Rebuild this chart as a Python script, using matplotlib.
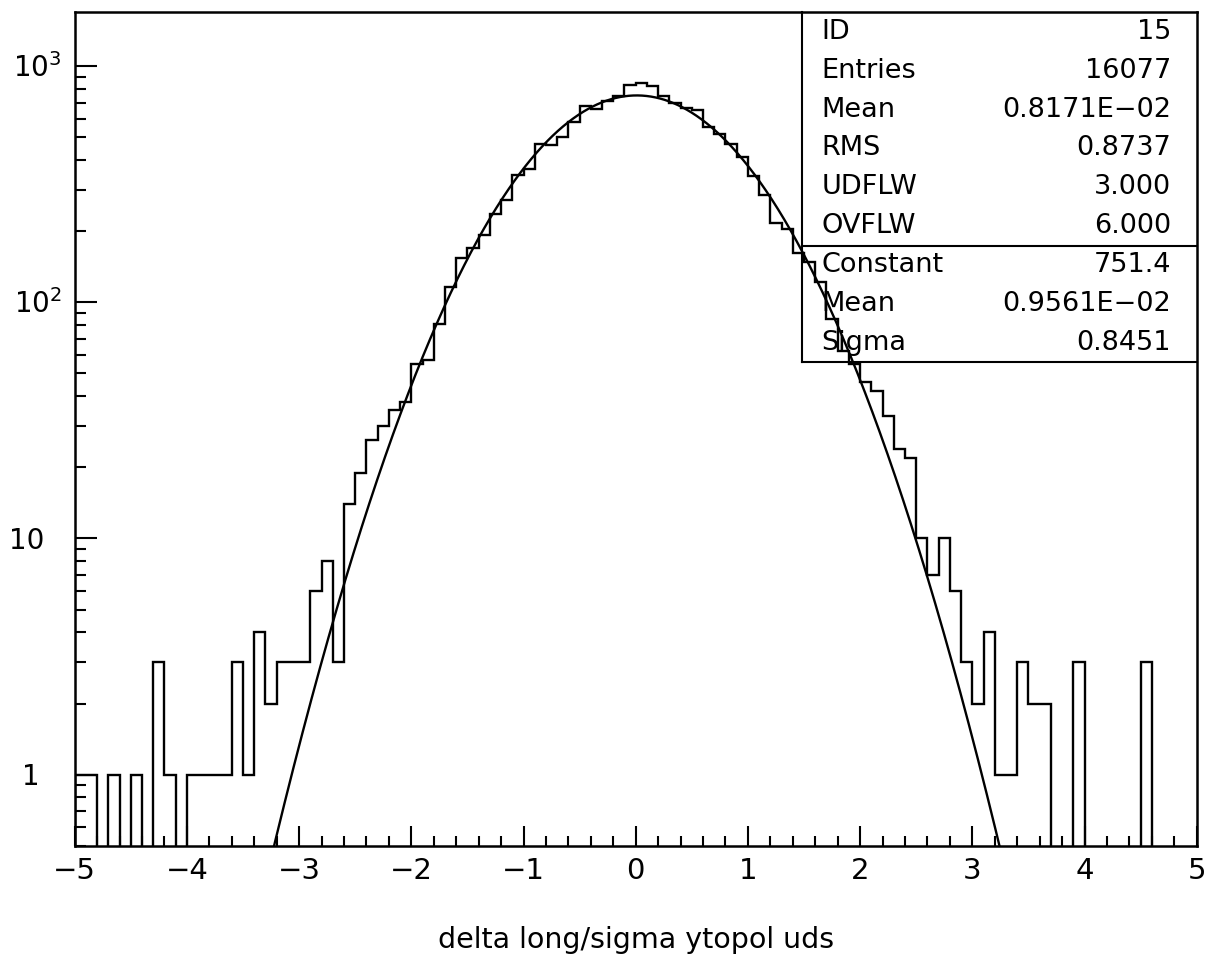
import numpy as np
import matplotlib
matplotlib.use("Agg")
import matplotlib.pyplot as plt
from matplotlib.ticker import FixedLocator, NullFormatter, LogLocator
from matplotlib.transforms import offset_copy

# Histogram 15: 100 bins of width 0.1 from -5 to 5
bin_low, bin_high, n_bins = -5.0, 5.0, 100
counts = np.array([
    1, 1, 0, 1, 0, 1, 0, 3, 1, 0,            # -5.0 .. -4.1
    1, 1, 1, 1, 3, 1, 4, 2, 3, 3,            # -4.0 .. -3.1
    3, 6, 8, 3, 14, 19, 26, 30, 35, 38,      # -3.0 .. -2.1
    55, 57, 81, 116, 154, 170, 192, 237, 272, 347,    # -2.0 .. -1.1
    368, 466, 462, 500, 579, 681, 660, 714, 745, 830,  # -1.0 .. -0.1
    847, 822, 745, 700, 662, 652, 552, 517, 466, 412,  # 0.0 .. 0.9
    344, 284, 217, 204, 161, 148, 122, 85, 62, 55,     # 1.0 .. 1.9
    46, 42, 33, 24, 22, 10, 7, 10, 6, 3,     # 2.0 .. 2.9
    2, 4, 1, 1, 3, 2, 2, 0, 0, 3,            # 3.0 .. 3.9
    0, 0, 0, 0, 0, 3, 0, 0, 0, 0,            # 4.0 .. 4.9
], dtype=float)

# Gaussian fit parameters
fit_constant = 751.4
fit_mean = 0.9561e-02
fit_sigma = 0.8451

# Statistics box
stat_names = ["ID", "Entries", "Mean", "RMS", "UDFLW", "OVFLW"]
stat_values = ["15", "16077", "0.8171E\u221202", "0.8737", "3.000", "6.000"]
fit_names = ["Constant", "Mean", "Sigma"]
fit_values = ["751.4", "0.9561E\u221202", "0.8451"]

x_title = "delta long/sigma ytopol uds"
x_ticks = [-5, -4, -3, -2, -1, 0, 1, 2, 3, 4, 5]
y_ticks = [1, 10, 100, 1000]
y_tick_labels = ["1", "10", r"$10^{2}$", r"$10^{3}$"]

plt.rcParams["font.family"] = ["DejaVu Sans"]
plt.rcParams["mathtext.fontset"] = "dejavusans"

W, H, DPI = 1222, 958, 100
fig = plt.figure(figsize=(W / DPI, H / DPI), dpi=DPI)
fig.patch.set_facecolor("white")

ax_l, ax_r, ax_t, ax_b = 74.7, 1196.7, 12.3, 845.7
ax = fig.add_axes([ax_l / W, 1 - ax_b / H, (ax_r - ax_l) / W, (ax_b - ax_t) / H])
ax.set_yscale("log")
ax.set_xlim(bin_low, bin_high)
ax.set_ylim(0.5, 1690)

lw = 1.7
edges = np.linspace(bin_low, bin_high, n_bins + 1)
floor = 1e-2
ax.stairs(np.clip(counts, floor, None), edges, baseline=floor,
          color="black", linewidth=lw, zorder=3)

xf = np.linspace(bin_low, bin_high, 2000)
yf = fit_constant * np.exp(-0.5 * ((xf - fit_mean) / fit_sigma) ** 2)
ax.plot(xf, yf, color="black", linewidth=lw, zorder=4)

for s in ax.spines.values():
    s.set_linewidth(1.8)

# x axis ticks
ax.xaxis.set_major_locator(FixedLocator(x_ticks))
ax.xaxis.set_minor_locator(FixedLocator(np.arange(-4.8, 5.0, 0.2)))
ax.set_xticklabels([f"{t}".replace("-", "\u2212") for t in x_ticks])
ax.tick_params(axis="x", which="major", direction="in", length=14.5, width=1.5,
               labelsize=21, pad=8, top=False)
ax.tick_params(axis="x", which="minor", direction="in", length=7.5, width=1.5,
               top=False)

# y axis ticks
ax.yaxis.set_major_locator(FixedLocator(y_ticks))
ax.yaxis.set_minor_locator(LogLocator(base=10, subs=np.arange(2, 10), numticks=20))
ax.yaxis.set_major_formatter(NullFormatter())
ax.yaxis.set_minor_formatter(NullFormatter())
ax.tick_params(axis="y", which="major", direction="in", length=15.5, width=1.5,
               right=False)
ax.tick_params(axis="y", which="minor", direction="in", length=8, width=1.5,
               right=False)

# y tick labels, mantissa sitting on the tick
ytrans = offset_copy(ax.get_yaxis_transform(), fig=fig, x=0, y=-10.5, units="dots")
label_right = {1: 40.0, 10: 44.3, 100: 61.7, 1000: 61.7}
for v, lab in zip(y_ticks, y_tick_labels):
    xr = (label_right[v] - ax_l) / (ax_r - ax_l)
    ax.text(xr, v, lab, transform=ytrans, ha="right", va="baseline",
            fontsize=20, clip_on=False)

# statistics box
box_left = (801.7 - ax_l) / (ax_r - ax_l)
row_h = (362.3 - ax_t) / 9.0
def fy(py):
    return (ax_b - py) / (ax_b - ax_t)

box_kw = dict(transform=ax.transAxes, color="black", linewidth=1.5, zorder=5,
              clip_on=False)
ax.plot([box_left, box_left], [fy(ax_t), fy(ax_t + 9 * row_h)], **box_kw)
ax.plot([box_left, 1.0], [fy(ax_t + 6 * row_h)] * 2, **box_kw)
ax.plot([box_left, 1.0], [fy(ax_t + 9 * row_h)] * 2, **box_kw)

tx_l = (821.5 - ax_l) / (ax_r - ax_l)
tx_r = (1171.0 - ax_l) / (ax_r - ax_l)
names = stat_names + fit_names
values = stat_values + fit_values
for i, (nm, val) in enumerate(zip(names, values)):
    yc = fy(ax_t + (i + 0.5) * row_h)
    ax.text(tx_l, yc, nm, transform=ax.transAxes, ha="left", va="center",
            fontsize=19.5, zorder=6)
    ax.text(tx_r, yc, val, transform=ax.transAxes, ha="right", va="center",
            fontsize=19.5, zorder=6)

fig.text((ax_l + ax_r) / 2 / W, 1 - 940 / H, x_title, ha="center", va="center",
         fontsize=20.5)

fig.savefig("out.png", dpi=DPI, facecolor="white")
